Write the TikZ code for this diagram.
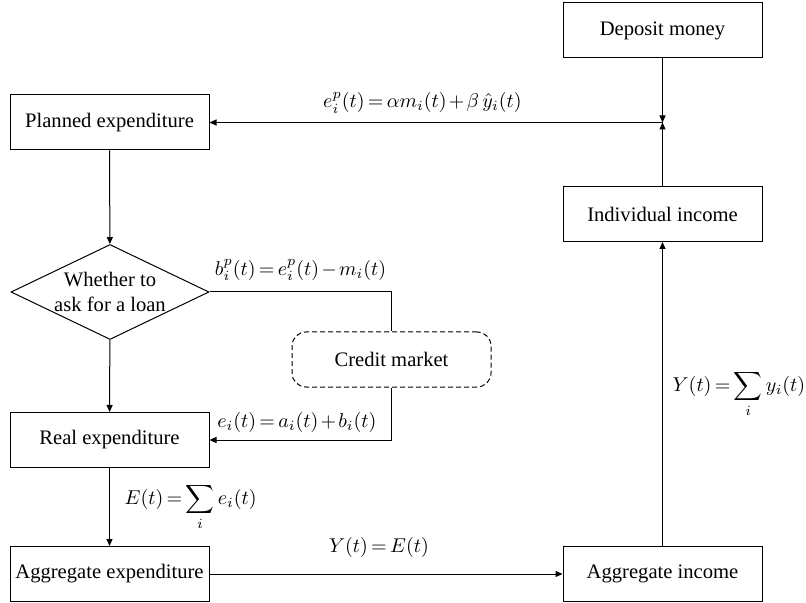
\documentclass[tikz,border=0pt]{standalone}
\usepackage{amsmath}
\usepackage{fontspec}
\setmainfont{Liberation Serif}
\usetikzlibrary{shapes.geometric,arrows.meta}
\thickmuskip=3mu\relax
\medmuskip=2mu\relax

\begin{document}
\begin{tikzpicture}[x=0.5pt, y=-0.5pt,
		every node/.style={font=\fontsize{10.3}{12.6}\selectfont},
		eqn/.style={font=\fontsize{10}{12}\selectfont},
		box/.style={draw, rectangle, line width=0.5pt, inner xsep=1pt, minimum width=99.5pt, minimum height=27.5pt},
		decide/.style={draw, diamond, line width=0.5pt, inner sep=0pt, minimum width=99pt, minimum height=47.5pt},
		market/.style={draw, rectangle, line width=0.5pt, dash pattern=on 2.5pt off 1.5pt, rounded corners=7pt, minimum width=99.5pt, minimum height=27.5pt},
		arr/.style={line width=0.5pt, -{Triangle[length=3.5pt, width=3pt]}},
		ln/.style={line width=0.5pt}]
			\useasboundingbox (0,0) rectangle (806,603);

			\node[box] (dep) at ( 662.5, 30.5 ) { Deposit money };
			\node[box] (plan) at ( 109.5, 122.5 ) { Planned expenditure };
			\node[box] (ind) at ( 662.5, 214 ) { Individual income };
			\node[decide] (loan) at ( 110, 292 ) {};
			\node[align=center] (loantxt) at (loan) { Whether to\\ask for a loan };
			\node[market] (cred) at ( 391.5, 359.5 ) { Credit market };
			\node[box] (real) at ( 109.5, 440 ) { Real expenditure };
			\node[box] (aggE) at ( 109.5, 574 ) { Aggregate expenditure };
			\node[box] (aggY) at ( 662.5, 574 ) { Aggregate income };
			\coordinate (j) at ( 662.5, 122.5 );

			\draw[arr](dep) -- (j);
			\draw[arr](ind) -- (j);
			\draw[arr](j) -- (plan) node[eqn, pos=0.53, above, yshift=1pt]{ $e_i^p(t)=\alpha m_i(t)+\beta\,\hat{y}_i(t)$ };
			\draw[arr](plan) -- (loan);
			\draw[arr](loan) -- (real);
			\draw[ln](loan.east) -| (cred) node[eqn, pos=0.25, above, yshift=2pt]{ $b_i^p(t)=e_i^p(t)-m_i(t)$ };
			\draw[arr](cred) |- (real) node[eqn, pos=0.76, above]{ $e_i(t)=a_i(t)+b_i(t)$ };
			\draw[arr](real) -- (aggE) node[eqn, midway, right, xshift=4pt]{ $E(t)=\displaystyle\sum_i e_i(t)$ };
			\draw[arr](aggE) -- (aggY) node[eqn, pos=0.48, above, yshift=4.5pt]{ $Y(t)=E(t)$ };
			\draw[arr](aggY) -- (ind) node[eqn, midway, right, xshift=1.5pt]{ $Y(t)=\displaystyle\sum_i y_i(t)$ };
		\end{tikzpicture}
\end{document}
